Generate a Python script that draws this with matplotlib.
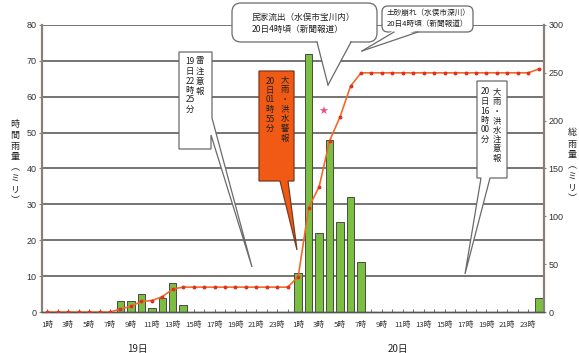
import matplotlib
matplotlib.use('Agg')
import matplotlib.pyplot as plt
from matplotlib.patches import Polygon, FancyBboxPatch
from matplotlib.lines import Line2D
from matplotlib.transforms import Affine2D
import numpy as np

# ---------------- data ----------------
hour_labels = ['1時', '3時', '5時', '7時', '9時', '11時', '13時', '15時', '17時', '19時', '21時', '23時',
               '1時', '3時', '5時', '7時', '9時', '11時', '13時', '15時', '17時', '19時', '21時', '23時']
day_labels = ['19日', '20日']
# hourly rainfall (mm), 19th 1h .. 20th 24h
rain = [0, 0, 0, 0, 0, 0, 0, 3, 3, 5, 1, 4, 8, 2, 0, 0, 0, 0, 0, 0, 0, 0, 0, 0,
        11, 72, 22, 48, 25, 32, 14, 0, 0, 0, 0, 0, 0, 0, 0, 0, 0, 0, 0, 0, 0, 0, 0, 4]
# cumulative rainfall (mm)
total = [0, 0, 0, 0, 0, 0, 0, 3, 6, 11, 12, 16, 24, 26, 26, 26, 26, 26, 26, 26, 26, 26, 26, 26,
         37, 109, 131, 179, 204, 236, 250, 250, 250, 250, 250, 250, 250, 250, 250, 250, 250, 250,
         250, 250, 250, 250, 250, 254]
left_ticks = [0, 10, 20, 30, 40, 50, 60, 70, 80]
right_ticks = [0, 50, 100, 150, 200, 250, 300]

W, H = 579, 353
plt.rcParams['font.family'] = ['Noto Sans CJK JP', 'DejaVu Sans']

fig = plt.figure(figsize=(W / 100, H / 100), dpi=100)
pix = Affine2D().scale(1 / W, -1 / H).translate(0, 1) + fig.transFigure

ax = fig.add_axes([42 / W, 1 - 312 / H, (544 - 42) / W, (312 - 25) / H])
x = np.arange(len(rain))
ax.set_xlim(-0.5, len(rain) - 0.5)
ax.set_ylim(0, 80)
for v in left_ticks[1:]:
    ax.axhline(v, color='#6c6864', lw=1.3, zorder=1)
ax.bar(x, rain, width=0.72, color='#7bbf40', edgecolor='#4a4a4a', lw=0.7, zorder=2)

ax2 = ax.twinx()
ax2.set_ylim(0, 300)
ax2.plot(x, total, color='#f26a2a', lw=1.2, marker='o', ms=1.8,
         mfc='#e0301e', mec='#e0301e', zorder=3)

spine_c = '#8b8079'
for a in (ax, ax2):
    a.spines['top'].set_visible(False)
    a.spines['bottom'].set_color('#555555')
    a.spines['bottom'].set_linewidth(1.0)
ax.spines['left'].set_color(spine_c)
ax.spines['left'].set_linewidth(1.6)
ax.spines['right'].set_visible(False)
ax2.spines['left'].set_visible(False)
ax2.spines['right'].set_color(spine_c)
ax2.spines['right'].set_linewidth(1.6)

ax.set_yticks(left_ticks)
ax.set_yticklabels([str(v) for v in left_ticks], fontfamily='Liberation Sans')
ax.tick_params(axis='y', length=2.5, width=0.8, color=spine_c, pad=1.5,
               labelsize=6.5, labelcolor='#333333')
ax2.set_yticks(right_ticks)
ax2.set_yticklabels([str(v) for v in right_ticks], fontfamily='Liberation Sans')
ax2.tick_params(axis='y', length=1.5, width=0.8, color=spine_c, pad=1.5,
                labelsize=6.5, labelcolor='#333333')

ax.set_xticks(x[::2])
ax.set_xticklabels(hour_labels)
ax.set_xticks(x, minor=True)
ax.tick_params(axis='x', which='both', direction='in', length=2, width=0.6,
               color='#555555', pad=6.5, labelsize=5.6, labelcolor='#333333')

# day labels
fig.text(137, 349, day_labels[0], transform=pix, ha='center', va='center', fontsize=7, color='#222222')
fig.text(398, 349, day_labels[1], transform=pix, ha='center', va='center', fontsize=7, color='#222222')


def vstack(xc, y0, chars, step, fs, color='#222222'):
    for i, ch in enumerate(chars):
        fig.text(xc, y0 + i * step, ch, transform=pix, ha='center', va='center',
                 fontsize=fs, color=color, zorder=7)


# axis titles (vertical)
vstack(15, 124, ['時', '間', '雨', '量', '︵', 'ミ', 'リ', '︶'], 11, 6.5)
vstack(572, 133, ['総', '雨', '量', '︵', 'ミ', 'リ', '︶'], 11, 6.5)

edge = '#6a6a6a'


def add_poly(pts, fc, ec, lw=0.9, z=5):
    p = Polygon(pts, closed=True, fc=fc, ec=ec, lw=lw, transform=pix, zorder=z)
    fig.add_artist(p)


# 雷注意報 callout
add_poly([(179, 52), (212, 52), (212, 118), (252, 267), (211, 135), (211, 149), (179, 149)], 'white', edge)
vstack(200, 61, ['雷', '注', '意', '報'], 10.2, 6)
vstack(190, 62, ['19', '日', '22', '時', '25', '分'], 9.5, 6)

# 大雨・洪水警報 callout (orange)
add_poly([(259, 71), (294, 71), (294, 181), (288, 181), (297, 250), (280, 181), (259, 181)], '#f05a14', '#7a3a20')
vstack(285, 80, ['大', '雨', '・', '洪', '水', '警', '報'], 9.7, 6)
vstack(270, 81, ['20', '日', '01', '時', '55', '分'], 9.5, 6)

# 大雨・洪水注意報 callout
add_poly([(477, 81), (507, 81), (507, 178), (490, 178), (465, 274), (481, 178), (477, 178)], 'white', edge)
vstack(497, 92, ['大', '雨', '・', '洪', '水', '注', '意', '報'], 9.5, 6)
vstack(485, 92, ['20', '日', '16', '時', '00', '分'], 9.5, 6)


def rounded_callout(x0, y0, x1, y1, r, b1, b2, tip):
    box = FancyBboxPatch((x0, y0), x1 - x0, y1 - y0,
                         boxstyle='round,pad=0,rounding_size=%g' % r,
                         fc='white', ec=edge, lw=0.9, transform=pix, zorder=5)
    fig.add_artist(box)
    add_poly([(b1, y1 - 2), (b2, y1 - 2), tip], 'white', 'none', lw=0, z=6)
    for bx in (b1, b2):
        fig.add_artist(Line2D([bx, tip[0]], [y1, tip[1]], color=edge, lw=0.9,
                              transform=pix, zorder=6))


rounded_callout(232, 3, 377, 42, 9, 317, 351, (328, 85))
fig.text(252, 17, '民家流出（水俣市宝川内）', transform=pix, ha='left', va='center',
         fontsize=6.2, color='#222222', zorder=7)
fig.text(252, 29, '20日4時頃（新聞報道）', transform=pix, ha='left', va='center',
         fontsize=6.2, color='#222222', zorder=7)

rounded_callout(382, 6, 473, 32, 6, 394, 418, (362, 51))
fig.text(387, 13, '土砂崩れ（水俣市深川）', transform=pix, ha='left', va='center',
         fontsize=5.5, color='#222222', zorder=7)
fig.text(387, 24, '20日4時頃（新聞報道）', transform=pix, ha='left', va='center',
         fontsize=5.5, color='#222222', zorder=7)

# star
fig.text(323, 112, '★', transform=pix, ha='center', va='center', fontsize=8,
         color='#e8528a', fontfamily='DejaVu Sans', zorder=7)

fig.savefig('out.png', dpi=100)
